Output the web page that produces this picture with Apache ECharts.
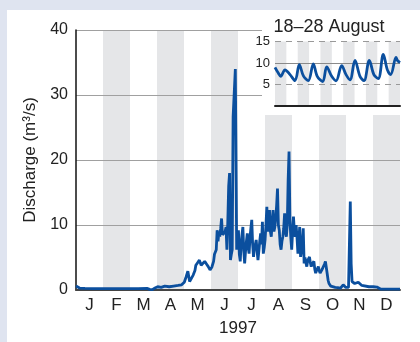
<!DOCTYPE html>
<html>
<head>
<meta charset="utf-8">
<script src="https://cdn.jsdelivr.net/npm/echarts@6/dist/echarts.min.js"></script>
<style>
html,body{margin:0;padding:0;background:#dfe4f0;width:420px;height:342px;overflow:hidden;}
#panel{position:absolute;left:7px;top:10px;width:413px;height:332px;background:#fff;}
#chart{position:absolute;left:0;top:0;width:420px;height:342px;}
</style>
</head>
<body>
<div id="panel"></div>
<div id="chart"></div>
<script>
// ---- data ----
const months = ['J','F','M','A','M','J','J','A','S','O','N','D'];
const yearLabel = '1997';
const yTitle = 'Discharge (m³/s)';
const insetTitle = '18–28 August';
const insetDays = ['18','19','20','21','22','23','24','25','26','27','28'];

// day of year (0 = 1 Jan) and discharge (m3/s)
const days = [0,2,4,10,20,30,40,50,60,70,80,83,86,89,92,96,100,105,110,115,119,122,124,126,128,130,132,134,135,137,139,141,143,145,147,149,151,153,155,156,158,159,160,161,162,163,164,165,167,168,169,170,171,172,173,174,175,176,177,179.5,181,182,183,184,185,186,187,188,189,190,191,192,193,194,195,196,197,198,199,200,201,202,203,204,205,206,207,208,209,210,211,212,213,214,215,216,217,218,219,220,221,222,223,224,225,226,227,228,229,230,231,232,233,234,235,236,237,238,239,240,241,242,243,244,245,246,247,248,249,250,251,252,253,254,255,256,257,258,259,260,261,262,263,264,265,266,267,268,269,270,271,272,273,274,275,276,277,278,279,280,281,282,283,284,285,287,289,292,295,298,300,301,302,304,307,308,309,310,311,312,314,316,318,319,320,322,324,330,335,339,341,343,350,358,365];
const discharge = [0.6,0.5,0.3,0.25,0.2,0.2,0.2,0.2,0.2,0.2,0.25,0.1,0.05,0.3,0.5,0.4,0.6,0.5,0.6,0.7,0.8,1.2,2.0,2.9,1.3,1.1,2.3,3.0,3.8,4.2,4.6,3.8,4.0,4.4,4.0,3.6,3.1,3.5,4.4,5.5,6.2,9.2,7.5,9.0,8.2,9.5,11.0,8.5,8.2,9.0,9.7,6.2,10.5,16.0,18.0,4.6,5.5,6.2,26.7,34.0,6.2,7.5,9.2,5.5,4.4,7.0,8.5,9.7,6.0,4.1,6.0,7.5,8.7,6.5,5.6,8.0,9.5,10.8,7.0,5.1,6.5,7.0,7.7,6.0,4.6,6.0,7.5,8.7,7.0,10.5,5.6,6.5,7.7,10.0,12.8,9.0,9.7,12.3,9.0,8.2,10.5,12.3,9.0,9.7,11.0,13.0,15.6,10.0,9.2,7.0,6.2,7.5,8.2,9.5,11.8,9.0,8.2,10.0,17.0,21.3,10.8,8.0,6.2,9.0,11.3,9.0,8.2,10.0,8.0,5.6,7.5,9.7,5.1,6.0,7.2,9.5,4.1,5.0,4.2,3.6,4.5,4.8,5.1,4.2,3.6,4.0,4.2,4.4,3.2,2.6,3.0,3.3,3.6,3.0,2.6,2.9,3.1,3.3,3.4,4.0,4.4,4.7,2.5,1.5,1.0,0.6,0.5,0.4,0.35,0.3,0.6,0.8,0.6,0.4,0.4,0.6,13.6,4.0,1.3,1.1,1.0,0.9,1.2,1.4,1.0,0.7,0.5,0.5,0.5,0.45,0.25,0.15,0.15,0.15,0.15];

// inset: days after 18 Aug 00:00, discharge
const insetT = [0,0.29,0.5,0.88,1.32,1.76,2.14,2.5,2.93,3.37,3.72,4.2,4.55,4.99,5.37,5.87,6.25,6.6,7.04,7.48,7.83,8.3,8.7,9.09,9.53,9.89,10.18,10.65,10.77,11.0];
const insetQ = [9.0,7.65,6.9,8.4,7.3,5.9,9.6,7.0,5.9,9.8,6.9,5.7,9.1,6.9,5.85,9.4,7.3,6.1,10.6,6.9,5.9,10.6,7.3,6.4,12.0,8.4,7.3,11.3,10.6,10.1];
const insetSolidLine = 10;

const FONT = '"Liberation Sans", Arial, Helvetica, sans-serif';
const LINE = '#0b4f9e';
const BAND = '#e5e6e8';

const mainData = days.map((d, i) => [d, discharge[i]]);
const insetData = insetT.map((t, i) => [t, insetQ[i]]);

const chart = echarts.init(document.getElementById('chart'), null, {renderer: 'canvas'});
chart.setOption({
  backgroundColor: 'transparent',
  animation: false,
  grid: [
    {left: 76, top: 30, width: 324, height: 260, containLabel: false, outerBoundsMode: 'none'},
    {left: 275, top: 41.5, width: 125, height: 64.5, containLabel: false, outerBoundsMode: 'none'}
  ],
  xAxis: [
    {gridIndex: 0, type: 'value', min: 0, max: 365, z: 1,
     axisLine: {show: true, lineStyle: {color: '#444', width: 2}},
     axisTick: {show: false}, axisLabel: {show: false}, splitLine: {show: false}},
    {gridIndex: 0, type: 'category', data: months, boundaryGap: true, position: 'bottom', z: 0,
     axisLine: {show: false}, axisTick: {show: false},
     axisLabel: {show: true, interval: 0, margin: 7, fontSize: 17, color: '#222', fontFamily: FONT},
     splitArea: {show: true, interval: 0, areaStyle: {color: ['rgba(0,0,0,0)', BAND]}},
     name: yearLabel, nameLocation: 'middle', nameGap: 30,
     nameTextStyle: {fontSize: 17, color: '#222', fontFamily: FONT}},
    {gridIndex: 1, type: 'value', min: 0, max: 11, z: 10,
     axisLine: {show: true, lineStyle: {color: '#222', width: 2}},
     axisTick: {show: false}, axisLabel: {show: false}, splitLine: {show: false}},
    {gridIndex: 1, type: 'category', data: insetDays, boundaryGap: true, z: 9,
     axisLine: {show: false}, axisTick: {show: false}, axisLabel: {show: false},
     splitArea: {show: true, interval: 0, areaStyle: {color: [BAND, 'rgba(0,0,0,0)']}}}
  ],
  yAxis: [
    {gridIndex: 0, type: 'value', min: 0, max: 40, interval: 10, z: 1,
     axisLine: {show: true, lineStyle: {color: '#111', width: 1.5}},
     axisTick: {show: false},
     axisLabel: {margin: 8, fontSize: 16, color: '#222', fontFamily: FONT},
     splitLine: {show: true, lineStyle: {color: '#a0a0a0', width: 1}},
     name: yTitle, nameLocation: 'middle', nameGap: 37, nameRotate: 90,
     nameTextStyle: {fontSize: 17, color: '#222', fontFamily: FONT}},
    {gridIndex: 1, type: 'value', min: 0, max: 15, interval: 5, z: 10,
     axisLine: {show: false}, axisTick: {show: false},
     axisLabel: {margin: 5, fontSize: 13, color: '#222', fontFamily: FONT,
       formatter: v => v === 0 ? '' : String(v)},
     splitLine: {show: true, lineStyle: {color: '#999', width: 1, type: [6, 5]}}}
  ],
  graphic: [
    {type: 'rect', z: 5, shape: {x: 262, y: 26, width: 142, height: 89}, style: {fill: '#fff'}},
    {type: 'text', z: 20, x: 329, y: 27,
     style: {text: insetTitle, font: '18px ' + FONT, fill: '#222', textAlign: 'center', textVerticalAlign: 'middle'}}
  ],
  series: [
    {type: 'line', xAxisIndex: 0, yAxisIndex: 0, data: mainData, showSymbol: false, z: 3,
     lineStyle: {color: LINE, width: 2.8}, itemStyle: {color: LINE}},
    {type: 'line', xAxisIndex: 2, yAxisIndex: 1, data: insetData, showSymbol: false, smooth: 0.35, z: 12,
     lineStyle: {color: LINE, width: 2.8}, itemStyle: {color: LINE},
     markLine: {silent: true, symbol: 'none', label: {show: false}, z: 11,
       lineStyle: {color: '#8a8a8a', width: 1, type: 'solid'},
       data: [{yAxis: insetSolidLine}]}}
  ]
});
</script>
</body>
</html>
